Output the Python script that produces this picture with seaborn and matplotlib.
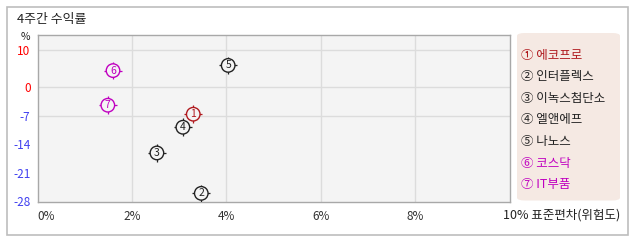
import numpy as np
import pandas as pd
import matplotlib
matplotlib.use("Agg")
import matplotlib.pyplot as plt
from matplotlib.patches import FancyBboxPatch, Rectangle
import seaborn as sns

# ---- data ----
names = ["에코프로", "인터플렉스", "이녹스첨단소", "엘앤에프", "나노스", "코스닥", "IT부품"]
marks = ["①", "②", "③", "④", "⑤", "⑥", "⑦"]
digits = ["1", "2", "3", "4", "5", "6", "7"]
risk = [3.30, 3.47, 2.53, 3.08, 4.04, 1.60, 1.49]      # 표준편차 (%)
ret = [-6.6, -26.0, -16.1, -9.8, 5.9, 4.5, -4.4]       # 4주간 수익률 (%)
colors = ["#b0191e", "#222222", "#222222", "#222222", "#222222", "#c000c0", "#c000c0"]
x_ticks = [0, 2, 4, 6, 8]
x_labels = ["0%", "2%", "4%", "6%", "8%"]
y_ticks = [10, 0, -7, -14, -21, -28]
y_labels = ["10", "0", "-7", "-14", "-21", "-28"]
y_colors = ["#ff0000", "#ff0000", "#4040f0", "#4040f0", "#4040f0", "#4040f0"]
h_grid = [10, 0, -7]

df = pd.DataFrame({"name": names, "risk": risk, "ret": ret, "color": colors})

sns.set_theme(style="white")
plt.rcParams["font.family"] = ["Noto Sans CJK KR", "DejaVu Sans"]
plt.rcParams["axes.unicode_minus"] = False

W, H = 638, 242
fig = plt.figure(figsize=(W / 100, H / 100), dpi=100)
fig.patch.set_facecolor("white")

def fx(px):
    return px / W

def fy(py):
    return 1 - py / H

# outer border
fig.add_artist(Rectangle((fx(6.5), fy(234.5)), fx(627.5) - fx(6.5), fy(7.5) - fy(234.5),
                         transform=fig.transFigure, fill=False, edgecolor="#bdbdbd", lw=1.2))

# axes
left, right, top, bottom = 37.5, 509.5, 35, 201.5
ax = fig.add_axes([fx(left), fy(bottom), fx(right) - fx(left), fy(top) - fy(bottom)])
ax.set_facecolor("#f4f4f4")

r = 0.909
ax.set_yscale("function", functions=(lambda y: np.where(y > 0, y * r, y),
                                     lambda y: np.where(y > 0, y / r, y)))
ax.set_xlim(0, 10)
ax.set_ylim(-28, 14.1)

for xv in [2, 4, 6, 8]:
    ax.axvline(xv, color="#dcdcdc", lw=1, zorder=0)
for yv in h_grid:
    ax.axhline(yv, color="#dcdcdc", lw=1, zorder=0)

for s in ax.spines.values():
    s.set_color("#a8a8a8")
    s.set_linewidth(1)

pal = dict(zip(names, colors))
# markers: crosshair stubs, circle, digit
sns.scatterplot(data=df, x="risk", y="ret", hue="name", palette=pal,
                marker="+", s=160, linewidth=0.9, legend=False, ax=ax, zorder=3)
sns.scatterplot(data=df, x="risk", y="ret", hue="name", palette=pal,
                marker="o", s=95, linewidth=1.0, legend=False, ax=ax, zorder=4)
circ = ax.collections[-1]
circ.set_facecolor("#f4f4f4")
circ.set_edgecolor(colors)
for xv, yv, d, c in zip(risk, ret, digits, colors):
    ax.text(xv, yv, d, color=c, fontsize=7.5, ha="center", va="center", zorder=5)

ax.set_xticks(x_ticks)
ax.set_xticklabels(x_labels)
ax.set_yticks(y_ticks)
ax.set_yticklabels(y_labels)
ax.tick_params(axis="both", length=0, labelsize=8.5)
ax.tick_params(axis="x", pad=6, colors="#333333")
ax.tick_params(axis="y", pad=5)
for lab, c in zip(ax.get_yticklabels(), y_colors):
    lab.set_color(c)
xl = ax.get_xticklabels()
xl[0].set_horizontalalignment("left")
ax.set_xlabel("")
ax.set_ylabel("")

# texts
fig.text(fx(17), fy(19), "4주간 수익률", fontsize=9.3, color="#222222", ha="left", va="center")
fig.text(fx(25), fy(37), "%", fontsize=7.5, color="#222222", ha="center", va="center")
fig.text(fx(503), fy(215), "10% 표준편차(위험도)", fontsize=9, color="#222222", ha="left", va="center")

# legend box
fig.add_artist(FancyBboxPatch((fx(517), fy(200.5)), fx(620) - fx(517), fy(33) - fy(200.5),
                              boxstyle="round,pad=0,rounding_size=0.012",
                              transform=fig.transFigure, facecolor="#f5e9e3", edgecolor="none"))
for i, (m, n, c) in enumerate(zip(marks, names, colors)):
    fig.text(fx(521), fy(55 + i * 21.6), f"{m} {n}", fontsize=9, color=c, ha="left", va="center")

fig.savefig("out.png", dpi=100)
